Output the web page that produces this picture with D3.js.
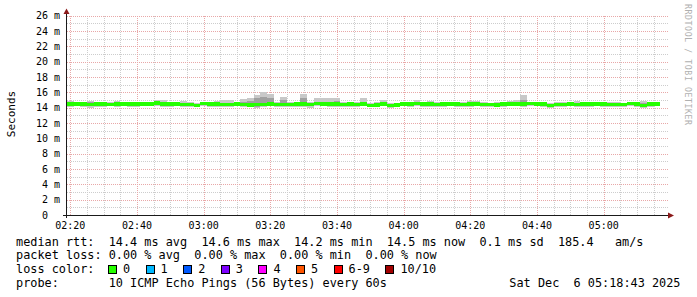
<!DOCTYPE html>
<html><head><meta charset="utf-8">
<script src="https://cdn.jsdelivr.net/npm/d3@7"></script>
<style>
body{margin:0;background:#fff;}
svg{display:block;}
text{font-family:"DejaVu Sans Mono",monospace;white-space:pre;}
</style></head>
<body><svg id="c" width="697" height="297"></svg>
<script>
// ---------- data ----------
const startTime = new Date(2025, 11, 6, 2, 19);
const endTime = new Date(2025, 11, 6, 5, 19);
const stepMinutes = 2;

const medianMs = [
 14.5,14.5,14.45,14.4,14.45,14.45,14.4,14.45,14.5,14.45,
 14.45,14.5,14.5,14.6,14.5,14.45,14.45,14.4,14.4,14.3,
 14.55,14.45,14.45,14.4,14.4,14.45,14.4,14.35,14.4,14.4,
 14.45,14.4,14.4,14.4,14.5,14.45,14.4,14.55,14.5,14.45,
 14.45,14.4,14.45,14.4,14.45,14.3,14.35,14.45,14.3,14.35,
 14.45,14.5,14.55,14.45,14.45,14.4,14.45,14.5,14.45,14.4,
 14.45,14.45,14.4,14.4,14.35,14.45,14.5,14.5,14.45,14.55,
 14.5,14.45,14.3,14.4,14.4,14.45,14.4,14.45,14.45,14.5,
 14.45,14.4,14.4,14.4,14.55,14.45,14.3,14.45,14.45
];
const smokeMaxMs = [
 14.9,14.75,14.75,14.9,14.8,14.7,14.75,14.85,14.7,14.75,
 14.7,14.75,14.7,14.95,14.95,14.75,14.7,14.9,14.75,14.6,
 14.75,14.7,14.9,14.95,14.95,14.75,15.1,15.2,15.6,16.0,
 15.8,14.8,15.4,14.8,14.75,15.8,14.8,15.2,15.2,15.2,
 15.3,14.75,14.8,14.75,15.2,14.6,14.7,15.0,14.6,14.65,
 14.75,14.8,15.05,14.7,14.85,14.7,14.75,14.75,14.7,14.7,
 14.85,14.85,14.7,14.65,14.7,14.75,14.85,15.0,15.6,14.8,
 14.75,14.7,14.6,14.7,14.75,14.7,14.85,14.75,14.7,14.75,
 14.7,14.75,14.7,14.65,14.75,14.7,14.9,14.75,14.7
];
const smokeHiMs = [
 14.7,14.65,14.6,14.75,14.6,14.6,14.6,14.65,14.65,14.6,
 14.6,14.65,14.65,14.8,14.65,14.6,14.6,14.6,14.55,14.45,
 14.7,14.6,14.65,14.6,14.6,14.6,14.7,14.9,15.2,15.4,
 15.2,14.6,15.0,14.6,14.65,15.3,14.6,14.8,14.7,14.75,
 14.9,14.6,14.6,14.6,14.8,14.45,14.5,14.8,14.45,14.5,
 14.6,14.65,14.75,14.6,14.6,14.55,14.6,14.65,14.6,14.55,
 14.6,14.6,14.55,14.55,14.5,14.6,14.65,14.75,15.0,14.7,
 14.65,14.6,14.45,14.55,14.55,14.6,14.55,14.6,14.6,14.65,
 14.6,14.55,14.55,14.55,14.7,14.6,14.6,14.6,14.6
];
const smokeLoMs = [
 14.3,14.35,14.3,14.2,14.25,14.3,14.3,14.3,14.35,14.3,
 14.3,14.35,14.35,14.4,14.3,14.3,14.3,14.2,14.25,14.2,
 14.35,14.3,14.25,14.25,14.25,14.3,14.25,14.2,14.15,14.25,
 14.3,14.25,14.25,14.25,14.3,14.2,14.2,14.35,14.35,14.25,
 14.25,14.25,14.3,14.25,14.3,14.15,14.2,14.3,14.1,14.2,
 14.3,14.3,14.35,14.25,14.3,14.25,14.3,14.35,14.25,14.25,
 14.25,14.3,14.2,14.25,14.2,14.3,14.35,14.35,14.3,14.35,
 14.35,14.25,14.15,14.25,14.25,14.3,14.2,14.3,14.3,14.35,
 14.3,14.2,14.25,14.2,14.35,14.3,14.15,14.3,14.3
];
const smokeMinMs = [
 14.1,14.2,14.15,14.0,14.05,14.1,14.2,14.15,14.2,14.1,
 14.15,14.2,14.2,14.25,14.1,14.15,14.2,14.05,14.1,14.1,
 14.2,14.15,14.1,14.1,14.1,14.2,14.15,14.05,14.0,14.1,
 14.2,14.15,14.1,14.1,14.15,14.05,14.0,14.2,14.2,14.1,
 14.1,14.15,14.15,14.1,14.2,14.05,14.1,14.2,13.95,14.05,
 14.2,14.15,14.2,14.1,14.15,14.1,14.15,14.2,14.05,14.1,
 14.1,14.2,14.05,14.1,14.05,14.15,14.2,14.2,14.15,14.2,
 14.2,14.1,14.0,14.15,14.1,14.2,14.05,14.15,14.15,14.2,
 14.15,14.05,14.1,14.05,14.2,14.15,14.0,14.15,14.2
];

const yTickValues = [0,2,4,6,8,10,12,14,16,18,20,22,24,26];
const yTickLabels = ["0  ","2 m","4 m","6 m","8 m","10 m","12 m","14 m","16 m","18 m","20 m","22 m","24 m","26 m"];

const lossLabels = ["0","1","2","3","4","5","6-9","10/10"];
const lossColors = ["#26ff00","#00b8ff","#0059ff","#7e00ff","#ff00ff","#ff5500","#ff0000","#a10000"];

const statsLines = [
 "median rtt:  14.4 ms avg  14.6 ms max  14.2 ms min  14.5 ms now  0.1 ms sd  185.4   am/s",
 "packet loss: 0.00 % avg  0.00 % max  0.00 % min  0.00 % now",
 "loss color:",
 "probe:       10 ICMP Echo Pings (56 Bytes) every 60s"
];
const dateText = "Sat Dec  6 05:18:43 2025";
const yAxisTitle = "Seconds";
const watermark = "RRDTOOL / TOBI OETIKER";

// ---------- drawing ----------
const svg = d3.select("#c");
const X0 = 67, X1 = 667, Y0 = 215, YT = 15.7;
const x = d3.scaleTime().domain([startTime, endTime]).range([X0, X1]);
const y = d3.scaleLinear().domain([0, 26]).range([Y0, YT]);

svg.append("rect").attr("width",697).attr("height",297).attr("fill","#fff");

const grid = svg.append("g").attr("shape-rendering","crispEdges");
const minorY = d3.range(0, 27, 1);
grid.selectAll(".hmin").data(minorY.filter(v => v % 2 !== 0)).join("line")
  .attr("x1", X0).attr("x2", X1 + 1).attr("y1", d => Math.round(y(d)) + 0.5).attr("y2", d => Math.round(y(d)) + 0.5)
  .attr("stroke", "#cdcdcd").attr("stroke-dasharray", "1,1");
const minorX = d3.timeMinute.every(5).range(startTime, endTime);
grid.selectAll(".vmin").data(minorX.filter(d => d.getMinutes() % 20 !== 0)).join("line")
  .attr("x1", d => Math.round(x(d)) + 0.5).attr("x2", d => Math.round(x(d)) + 0.5).attr("y1", Y0).attr("y2", YT - 1)
  .attr("stroke", "#cdcdcd").attr("stroke-dasharray", "1,1");
grid.selectAll(".hmaj").data(yTickValues.filter(v => v > 0)).join("line")
  .attr("x1", X0).attr("x2", X1 + 1).attr("y1", d => Math.round(y(d)) + 0.5).attr("y2", d => Math.round(y(d)) + 0.5)
  .attr("stroke", "#e8a8a8").attr("stroke-dasharray", "1,1");
const majorX = d3.timeMinute.every(20).range(startTime, endTime);
grid.selectAll(".vmaj").data(majorX).join("line")
  .attr("x1", d => Math.round(x(d)) + 0.5).attr("x2", d => Math.round(x(d)) + 0.5).attr("y1", Y0).attr("y2", YT - 1)
  .attr("stroke", "#e8a8a8").attr("stroke-dasharray", "1,1");

// data series
const times = medianMs.map((_, i) => d3.timeMinute.offset(startTime, i * stepMinutes));
const lastEnd = d3.timeMinute.offset(startTime, medianMs.length * stepMinutes);
function pts(lo, hi) {
  const a = times.map((t, i) => ({t, lo: lo[i], hi: hi[i]}));
  a.push({t: lastEnd, lo: lo[lo.length - 1], hi: hi[hi.length - 1]});
  return a;
}
const area = d3.area().curve(d3.curveStepAfter)
  .x(d => x(d.t)).y0(d => y(d.lo)).y1(d => y(d.hi));
const plot = svg.append("g").attr("shape-rendering","crispEdges");
plot.append("path").datum(pts(smokeMinMs, smokeMaxMs)).attr("d", area).attr("fill", "#c8c8c8");
plot.append("path").datum(pts(smokeLoMs, smokeHiMs)).attr("d", area).attr("fill", "#a0a0a0");
const medPts = times.map((t, i) => ({t, v: medianMs[i]}));
medPts.push({t: lastEnd, v: medianMs[medianMs.length - 1]});
const medArea = d3.area().curve(d3.curveStepAfter)
  .x(d => x(d.t)).y0(d => y(d.v) + 1.8).y1(d => y(d.v) - 1.8);
plot.append("path").datum(medPts).attr("d", medArea).attr("fill", lossColors[0]);

// axes
const ax = svg.append("g").attr("shape-rendering","crispEdges");
ax.append("line").attr("x1", 63).attr("x2", 669).attr("y1", Y0 + 0.5).attr("y2", Y0 + 0.5).attr("stroke", "#1a1a1a");
ax.append("line").attr("x1", X0 - 0.5).attr("x2", X0 - 0.5).attr("y1", Y0 + 3).attr("y2", 12).attr("stroke", "#1a1a1a");
svg.append("path").attr("d", `M${X0-3.5},14 L${X0-0.5},8.5 L${X0+2.5},14 Z`).attr("fill", "#8b1a1a");
svg.append("path").attr("d", `M668,${Y0-2.5} L674,${Y0+0.5} L668,${Y0+3.5} Z`).attr("fill", "#8b1a1a");

// y labels
svg.append("g").selectAll("text").data(yTickValues).join("text")
  .attr("x", 60).attr("y", d => y(d) + 3.6).attr("text-anchor", "end")
  .attr("font-size", 10).attr("fill", "#000")
  .text((d, i) => yTickLabels[i]);
// x labels
const fmt = d3.timeFormat("%H:%M");
svg.append("g").selectAll("text").data(majorX).join("text")
  .attr("x", d => x(d)).attr("y", 228.5).attr("text-anchor", "middle")
  .attr("font-size", 10).attr("fill", "#000").text(d => fmt(d));

// y title
svg.append("text").attr("transform", "translate(15,114) rotate(-90)")
  .attr("text-anchor", "middle").attr("font-size", 11).attr("fill", "#000").text(yAxisTitle);

// watermark
svg.append("text").attr("transform", "translate(684.5,4) rotate(90)")
  .attr("font-size", 8.2).attr("letter-spacing", 0.6).attr("fill", "#b0b0b0").text(watermark);

// legend/stats
const FS = 11.85, CW = FS * 0.602;
const lineY = [245.5, 259.3, 273.3, 287.3];
svg.append("g").selectAll("text").data(statsLines).join("text")
  .attr("x", 16).attr("y", (d, i) => lineY[i]).attr("font-size", FS).attr("fill", "#000").text(d => d);
svg.append("text").attr("x", 680.5).attr("y", lineY[3]).attr("text-anchor", "end")
  .attr("font-size", FS).attr("fill", "#000").text(dateText);

let lx = 108;
const lg = svg.append("g");
lossLabels.forEach((lab, i) => {
  lg.append("rect").attr("x", lx + 0.5).attr("y", 265.5).attr("width", 8).attr("height", 8)
    .attr("fill", lossColors[i]).attr("stroke", "#000").attr("stroke-width", 1).attr("shape-rendering","crispEdges");
  lg.append("text").attr("x", lx + 15).attr("y", lineY[2]).attr("font-size", FS).attr("fill", "#000").text(lab);
  lx += 15 + lab.length * 7.1 + 15.5;
});
</script>
</body></html>
